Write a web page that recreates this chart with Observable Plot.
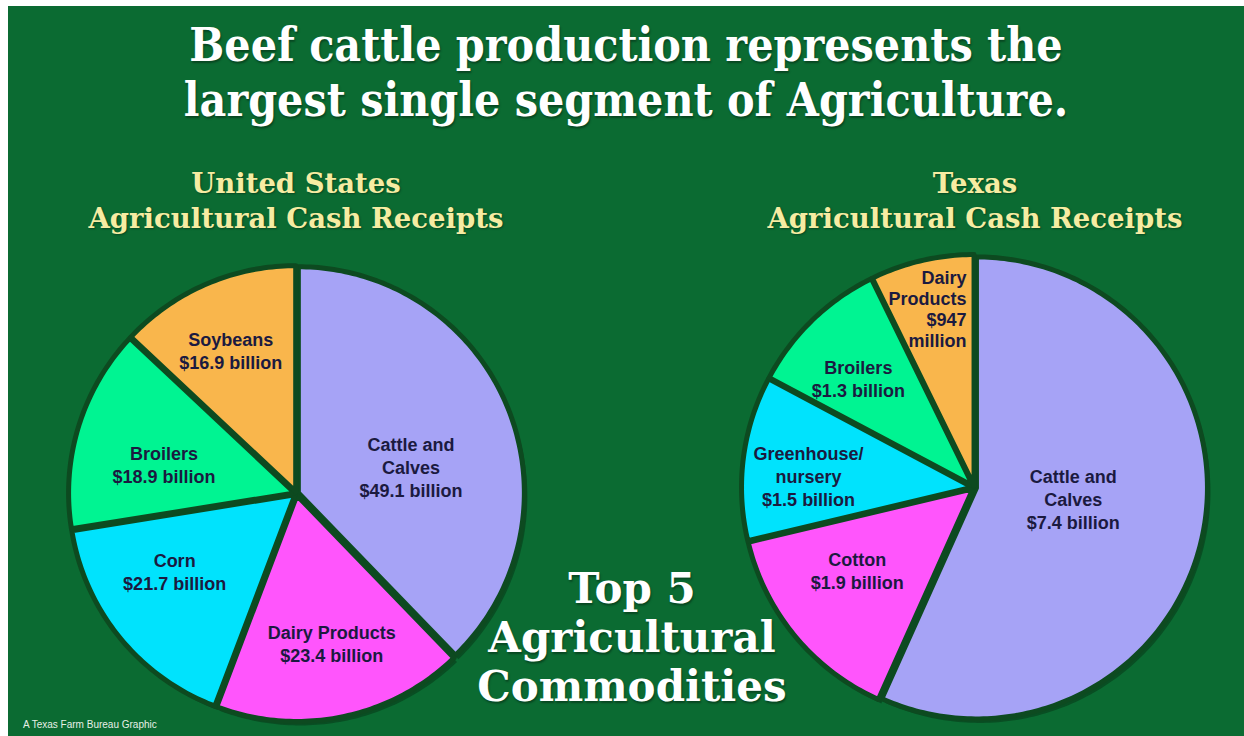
<!DOCTYPE html>
<html>
<head>
<meta charset="utf-8">
<script src="https://cdn.jsdelivr.net/npm/d3@7"></script>
<script src="https://cdn.jsdelivr.net/npm/@observablehq/plot@0.6"></script>
<style>
  html, body { margin: 0; padding: 0; background: #ffffff; width: 1244px; height: 736px; overflow: hidden; }
  #frame { position: absolute; left: 8px; top: 6px; width: 1236px; height: 730px; background: #0b6b32; overflow: hidden; }
  .title { position: absolute; left: 0; width: 1236px; text-align: center; color: #ffffff;
           font-family: "DejaVu Serif Condensed", "DejaVu Serif", serif; font-stretch: condensed; font-weight: bold;
           font-size: 46px; line-height: 55px; white-space: nowrap; text-shadow: 1px 2px 2px rgba(0,0,0,0.35); }
  .sub { position: absolute; width: 500px; text-align: center; color: #f6eca2;
         font-family: "DejaVu Serif", serif; font-weight: bold; font-size: 27.5px; line-height: 35px; white-space: nowrap;
         text-shadow: 1px 1px 2px rgba(0,0,0,0.35); }
  .top5 { position: absolute; width: 400px; text-align: center; color: #ffffff;
          font-family: "DejaVu Serif", serif; font-weight: bold; font-size: 42px; line-height: 49px; white-space: nowrap;
          text-shadow: 1px 2px 2px rgba(0,0,0,0.35); }
  #plotwrap { position: absolute; left: 0; top: 140px; }
  .credit { position: absolute; left: 15px; top: 713px; color: #e6efe6; font-family: "Liberation Sans", Arial, sans-serif; font-size: 10px; }
</style>
</head>
<body>
<div id="frame">
  <div id="plotwrap"></div>
  <div class="title" style="top:12px">Beef cattle production represents the</div>
  <div class="title" style="top:67px">largest single segment of Agriculture.</div>
  <div class="sub" style="left:38px; top:160px">United States<br>Agricultural Cash Receipts</div>
  <div class="sub" style="left:717px; top:160px">Texas<br>Agricultural Cash Receipts</div>
  <div class="top5" style="left:424px; top:558px">Top 5<br>Agricultural<br>Commodities</div>
  <div class="credit">A Texas Farm Bureau Graphic</div>
</div>
<script>
// ---------------- DATA ----------------
const usCategories = ["Cattle and\nCalves", "Dairy Products", "Corn", "Broilers", "Soybeans"];
const usValues = [49.1, 23.4, 21.7, 18.9, 16.9];
const usValueLabels = ["$49.1 billion", "$23.4 billion", "$21.7 billion", "$18.9 billion", "$16.9 billion"];

const txCategories = ["Cattle and\nCalves", "Cotton", "Greenhouse/\nnursery", "Broilers", "Dairy\nProducts"];
const txValues = [7.4, 1.9, 1.5, 1.3, 0.947];
const txValueLabels = ["$7.4 billion", "$1.9 billion", "$1.5 billion", "$1.3 billion", "$947\nmillion"];

// ---------------- STYLE / LAYOUT ----------------
const usColors = ["#a6a3f6", "#ff55fc", "#00e3fd", "#00f492", "#f9b64c"];
const txColors = ["#a6a3f6", "#ff55fc", "#00e3fd", "#00f492", "#f9b64c"];
// label placement: [radius fraction, angle offset in degrees from slice bisector, text anchor]
const usLabelPlace = [[0.52, 8.8, "middle"], [0.68, -1.6, "middle"], [0.64, 6.6, "middle"], [0.60, -4.7, "middle"], [0.70, -1.2, "middle"]];
const txLabelPlace = [[0.43, -5.7, "middle"], [0.62, 4.6, "middle"], [0.72, -3.2, "middle"], [0.69, -2.7, "middle"], [0.775, 10.5, "end"]];
const usPie = {cx: 296, cy: 493, r: 226};
const txPie = {cx: 974, cy: 487, r: 231};
const explode = 2;

function buildPie(id, cats, vals, valLabels, colors, place, geo) {
  const total = d3.sum(vals);
  const polys = [], labels = [];
  let a0 = 0;
  vals.forEach((v, i) => {
    const span = v / total * 360;
    const a1 = a0 + span;
    const mid = (a0 + a1) / 2;
    const rad = d => d * Math.PI / 180;
    const ox = explode * Math.sin(rad(mid)), oy = -explode * Math.cos(rad(mid));
    const key = id + "-" + i;
    polys.push({key, x: geo.cx + ox, y: geo.cy + oy, color: colors[i]});
    const n = Math.max(2, Math.ceil(span));
    for (let k = 0; k <= n; k++) {
      const a = rad(a0 + span * k / n);
      polys.push({key, x: geo.cx + ox + geo.r * Math.sin(a), y: geo.cy + oy - geo.r * Math.cos(a), color: colors[i]});
    }
    const la = rad(mid + place[i][1]);
    const lr = geo.r * place[i][0];
    labels.push({x: geo.cx + lr * Math.sin(la), y: geo.cy - lr * Math.cos(la), text: cats[i] + "\n" + valLabels[i], anchor: place[i][2]});
    a0 = a1;
  });
  return {polys, labels};
}

const us = buildPie("us", usCategories, usValues, usValueLabels, usColors, usLabelPlace, usPie);
const tx = buildPie("tx", txCategories, txValues, txValueLabels, txColors, txLabelPlace, txPie);
const polys = us.polys.concat(tx.polys);
const labels = us.labels.concat(tx.labels);

const textStyle = {x: "x", y: "y", text: "text", fill: "#1b1a40", fontSize: 18, fontWeight: "bold",
  fontFamily: "'Liberation Sans', Arial, sans-serif", lineHeight: 1.28, lineAnchor: "middle"};

const chart = Plot.plot({
  width: 1236,
  height: 590,
  margin: 0,
  style: {background: "transparent", overflow: "visible"},
  x: {domain: [8, 1244], range: [0, 1236], axis: null},
  y: {domain: [146, 736], range: [0, 590], axis: null},
  color: {type: "identity"},
  marks: [
    Plot.line(polys, {x: "x", y: "y", z: "key", fill: "#08421c", stroke: "none", curve: "linear-closed", dx: 3, dy: 4, fillOpacity: 0.7}),
    Plot.line(polys, {x: "x", y: "y", z: "key", fill: "color", stroke: "#0d4a20", strokeWidth: 5, strokeLinejoin: "round", curve: "linear-closed"}),
    Plot.text(labels.filter(d => d.anchor === "middle"), {...textStyle, textAnchor: "middle"}),
    Plot.text(labels.filter(d => d.anchor === "end"), {...textStyle, textAnchor: "end", lineHeight: 1.17})
  ]
});
document.getElementById("plotwrap").appendChild(chart);
</script>
</body>
</html>
